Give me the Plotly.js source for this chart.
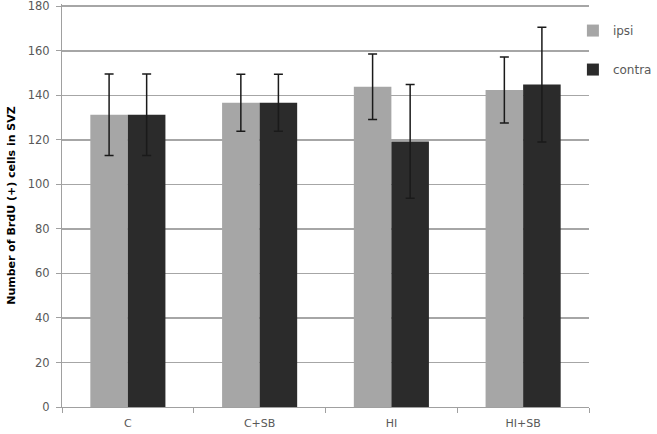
<!DOCTYPE html>
<html>
<head>
<meta charset="utf-8">
<script src="https://cdn.plot.ly/plotly-3.0.1.min.js"></script>
<style>html,body{margin:0;padding:0;background:#fff;}#chart{width:657px;height:434px;}</style>
</head>
<body>
<div id="chart"></div>
<script>
const categories = ["C", "C+SB", "HI", "HI+SB"];
const ipsiValues = [131.3, 136.6, 143.8, 142.4];
const ipsiErrors = [18.3, 12.8, 14.7, 14.8];
const contraValues = [131.3, 136.6, 119.3, 144.8];
const contraErrors = [18.3, 12.8, 25.5, 25.8];
const seriesNames = ["ipsi", "contra"];
const yTicks = [0, 20, 40, 60, 80, 100, 120, 140, 160, 180];

const font = "DejaVu Sans, Verdana, sans-serif";
const errStyle = {type: "data", visible: true, color: "#1a1a1a", thickness: 1.5, width: 4.5};

const traces = [
  {type: "bar", name: seriesNames[0], x: categories, y: ipsiValues,
   error_y: Object.assign({array: ipsiErrors}, errStyle),
   marker: {color: "#a6a6a6"}, legendgroup: "a"},
  {type: "bar", name: seriesNames[1], x: categories, y: contraValues,
   error_y: Object.assign({array: contraErrors}, errStyle),
   marker: {color: "#2b2b2b"}, legendgroup: "b"}
];

const layout = {
  width: 657, height: 434,
  margin: {l: 62, r: 68, t: 4, b: 27, autoexpand: false},
  paper_bgcolor: "#fff", plot_bgcolor: "#fff",
  barmode: "group", bargap: 0.43, bargroupgap: 0,
  font: {family: font, size: 11, color: "#595959"},
  showlegend: true,
  legend: {xref: "container", yref: "container", x: 0.872, y: 0.963,
           xanchor: "left", yanchor: "top",
           bgcolor: "rgba(0,0,0,0)", tracegroupgap: 20,
           font: {family: font, size: 12, color: "#595959"}},
  xaxis: {type: "category", showgrid: false, showline: true, linecolor: "#a0a0a0", linewidth: 1,
          ticks: "outside", tickson: "boundaries", ticklen: 5, tickcolor: "#a0a0a0",
          ticklabelstandoff: 6,
          tickfont: {family: font, size: 11, color: "#595959"}, fixedrange: true},
  yaxis: {range: [0, 181], tickvals: yTicks, ticktext: yTicks.map(String),
          showgrid: true, gridcolor: "#a6a6a6", gridwidth: 1.5,
          showline: true, linecolor: "#a0a0a0", linewidth: 1,
          ticks: "outside", ticklen: 5, tickcolor: "#a0a0a0",
          ticklabelstandoff: 4, ticklabeloverflow: "allow",
          zeroline: false,
          tickfont: {family: font, size: 11.5, color: "#595959"},
          title: {text: "Number of BrdU (+) cells in SVZ", standoff: 9,
                  font: {family: font, size: 11, color: "#000", weight: "bold"}}}
};

Plotly.newPlot("chart", traces, layout, {displayModeBar: false, staticPlot: true});
</script>
</body>
</html>
